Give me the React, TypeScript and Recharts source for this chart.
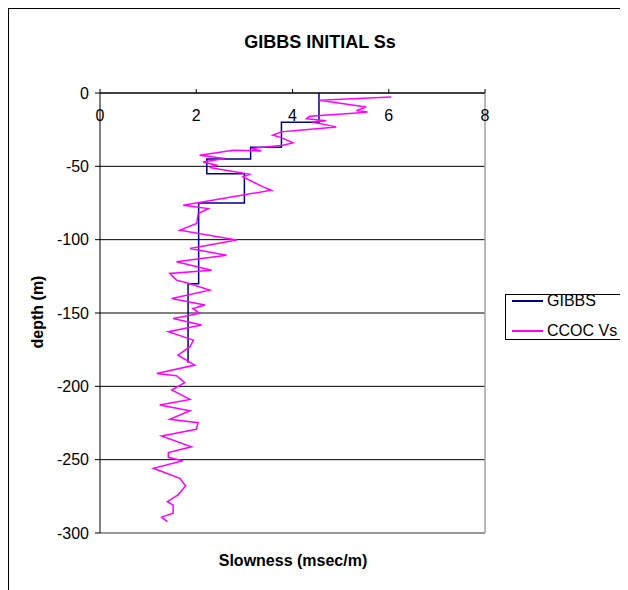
import React from "react";
import {
  CartesianGrid,
  ReferenceLine,
  Scatter,
  ScatterChart,
  XAxis,
  YAxis,
} from "recharts";

// GIBBS initial slowness model (step profile)
const gibbsSlowness = [4.55, 4.55, 3.77, 3.77, 3.13, 3.13, 2.22, 2.22, 3.0, 3.0, 2.05, 2.05, 1.83, 1.83];
const gibbsDepth = [0, -20, -20, -37, -37, -45, -45, -55, -55, -75, -75, -130, -130, -184];

// CCOC Vs slowness log
const ccocSlowness = [
  6.05, 4.56, 5.53, 5.33, 5.56, 5.33, 4.36, 4.29, 4.7, 4.4, 4.91, 4.15, 3.77, 3.59, 3.77, 4.01, 3.8, 3.15, 3.35,
  2.77, 2.07, 2.59, 2.14, 2.42, 2.28, 3.11, 2.97, 3.39, 3.56, 1.73, 2.25, 2.04, 2.01, 1.66, 2.84, 1.87, 2.63, 1.59,
  2.32, 1.45, 1.59, 1.8, 2.28, 1.49, 2.18, 1.93, 2.07, 1.52, 2.11, 1.42, 1.94, 1.87, 1.62, 1.97, 1.18, 1.59, 1.76,
  1.49, 1.87, 1.24, 1.87, 1.45, 2.04, 2.0, 1.28, 1.9, 1.42, 1.42, 1.72, 1.11, 1.66, 1.78, 1.62, 1.4, 1.52, 1.52,
  1.28, 1.4,
];
const ccocDepth = [
  -2.7, -5, -9.5, -12, -12.9, -13.6, -15.9, -17.5, -19, -19.7, -23.1, -25.4, -26.5, -28.8, -30.4, -34, -35.6, -37.9,
  -39.5, -39, -42.4, -44.7, -47, -49.2, -50.8, -55.4, -57.2, -64, -66.3, -76.5, -78.8, -82.2, -89, -93.5, -100.3,
  -106, -110.6, -115.1, -120.8, -123, -127.6, -129.4, -134.4, -140.1, -144.6, -146.9, -150.3, -153.7, -158.2,
  -162.8, -168.5, -173, -178.7, -185.5, -191.2, -192.8, -197.5, -202.5, -208.9, -212.8, -216.6, -222.5, -224.8,
  -229.3, -233.9, -241.2, -245.2, -248.4, -250.7, -255.9, -262.7, -268, -274, -278.6, -281, -286.5, -289.2, -292.2,
];

const xTicks = [0, 2, 4, 6, 8];
const yTicks = [0, -50, -100, -150, -200, -250, -300];

const gibbsData = gibbsSlowness.map((x, i) => ({ x, y: gibbsDepth[i] }));
const ccocData = ccocSlowness.map((x, i) => ({ x, y: ccocDepth[i] }));

const font = "'Liberation Sans', Arial, sans-serif";
const GIBBS_COLOR = "#000080";
const CCOC_COLOR = "#FF00FF";

const legendItems = [
  { name: "GIBBS", color: GIBBS_COLOR },
  { name: "CCOC Vs", color: CCOC_COLOR },
];

const NoDot = () => <g />;

const TopTick = (props: any) => {
  const { x, y, payload } = props;
  return (
    <text x={x} y={y + 34} textAnchor="middle" fontSize={16} fontFamily={font} fill="#000">
      {payload.value}
    </text>
  );
};

export default function App() {
  return (
    <div
      style={{
        position: "relative",
        width: 616,
        height: 600,
        border: "1px solid #000",
        background: "#fff",
        fontFamily: font,
      }}
    >
      <div
        style={{
          position: "absolute",
          left: 0,
          width: 622,
          top: 23,
          textAlign: "center",
          fontWeight: "bold",
          fontSize: 18,
        }}
      >
        GIBBS INITIAL Ss
      </div>
      <ScatterChart
        width={616}
        height={560}
        margin={{ top: 54, right: 140, bottom: 36, left: 0 }}
      >
        <CartesianGrid horizontal vertical={false} stroke="#000" strokeWidth={1} />
        <XAxis
          type="number"
          dataKey="x"
          orientation="top"
          domain={[0, 8]}
          ticks={xTicks}
          height={30}
          tick={<TopTick />}
          tickSize={4}
          axisLine={{ stroke: "#000" }}
          tickLine={{ stroke: "#000" }}
          allowDataOverflow
        />
        <YAxis
          type="number"
          dataKey="y"
          domain={[-300, 0]}
          ticks={yTicks}
          width={91}
          tickSize={5}
          tickMargin={6}
          tick={{ fontSize: 16, fontFamily: font, fill: "#000" }}
          axisLine={{ stroke: "#000" }}
          tickLine={{ stroke: "#000" }}
          allowDataOverflow
        />
        <ReferenceLine x={8} stroke="#a0a0a0" strokeWidth={1.5} />
        <ReferenceLine y={-300} stroke="#a0a0a0" strokeWidth={1.5} />
        <Scatter
          name="GIBBS"
          data={gibbsData}
          line={{ stroke: GIBBS_COLOR, strokeWidth: 1.5 }}
          shape={<NoDot />}
          fill={GIBBS_COLOR}
          isAnimationActive={false}
        />
        <Scatter
          name="CCOC Vs"
          data={ccocData}
          line={{ stroke: CCOC_COLOR, strokeWidth: 1.5 }}
          shape={<NoDot />}
          fill={CCOC_COLOR}
          isAnimationActive={false}
        />
      </ScatterChart>
      <div
        style={{
          position: "absolute",
          left: 496,
          top: 285,
          border: "1px solid #000",
          width: 114,
          height: 44,
          boxSizing: "content-box",
          fontSize: 16,
          color: "#000",
          background: "#fff",
        }}
      >
        {legendItems.map((item, i) => (
          <div
            key={item.name}
            style={{ display: "flex", alignItems: "center", height: 16, marginTop: i === 0 ? -2 : 14 }}
          >
            <span
              style={{
                display: "inline-block",
                width: 31,
                height: 2,
                background: item.color,
                marginLeft: 6,
                marginRight: 4,
              }}
            />
            <span>{item.name}</span>
          </div>
        ))}
      </div>
      <div
        style={{
          position: "absolute",
          left: 0,
          width: 568,
          top: 543,
          textAlign: "center",
          fontWeight: "bold",
          fontSize: 16,
        }}
      >
        Slowness (msec/m)
      </div>
      <div style={{ position: "absolute", left: 29, top: 303, width: 0, height: 0 }}>
        <div
          style={{
            position: "absolute",
            transform: "translate(-50%, -50%) rotate(-90deg)",
            whiteSpace: "nowrap",
            fontWeight: "bold",
            fontSize: 16,
          }}
        >
          depth (m)
        </div>
      </div>
    </div>
  );
}
